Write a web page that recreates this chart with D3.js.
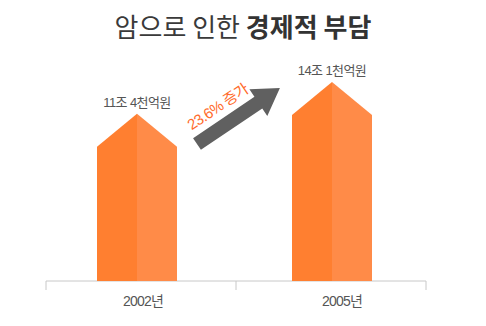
<!DOCTYPE html>
<html>
<head>
<meta charset="utf-8">
<script src="https://cdn.jsdelivr.net/npm/d3@7"></script>
<style>
  html, body { margin: 0; padding: 0; background: #fff; }
  svg { display: block; font-family: "Liberation Sans", "Noto Sans CJK KR", sans-serif; }
</style>
</head>
<body>
<svg id="chart" width="486" height="326"></svg>
<script>
// Economic burden of cancer, in 조 (trillion won)
const years = ["2002년", "2005년"];
const burden = [11.4, 14.1];
const valueLabels = ["11조 4천억원", "14조 1천억원"];
const growthLabel = "23.6% 증가";

const W = 486, H = 326;
const svg = d3.select("#chart");

// Title: regular + bold parts
const title = svg.append("text")
  .attr("x", W / 2).attr("y", 37)
  .attr("text-anchor", "middle")
  .attr("font-family", "Noto Sans CJK KR")
  .attr("font-size", 26)
  .attr("fill", "#3a3a3a");
title.append("tspan").text("암으로 인한 ");
title.append("tspan").attr("font-weight", "bold").attr("fill", "#333").text("경제적 부담");

const baseY = 281;
const x = d3.scaleBand().domain(years).range([46, 426]).paddingInner(0).paddingOuter(0);
const y = d3.scaleLinear().domain([0, 14.1]).range([baseY, 115]);

const barW = 80, roof = 33;
const shift = [-4, 1];   // bar centre offset within each band

// Axis with outer and middle ticks
const axis = d3.axisBottom(x).tickSize(0).tickFormat("");
const gAxis = svg.append("g").attr("transform", `translate(0,${baseY})`).call(axis);
gAxis.select(".domain").remove();
gAxis.append("line").attr("x1", 46).attr("x2", 426).attr("y1", 0).attr("y2", 0)
  .attr("stroke", "#c8c8c8").attr("stroke-width", 1);
[46, x(years[1]), 426].forEach(px => {
  gAxis.append("line").attr("x1", px).attr("x2", px).attr("y1", 0).attr("y2", 9)
    .attr("stroke", "#c8c8c8").attr("stroke-width", 1);
});

// House-shaped bars, split into a darker left and lighter right half
const bars = svg.append("g");
years.forEach((yr, i) => {
  const cx = x(yr) + x.bandwidth() / 2 + shift[i];
  const top = y(burden[i]);
  const l = cx - barW / 2, r = cx + barW / 2;
  bars.append("path")
    .attr("d", `M${l},${baseY}L${l},${top}L${cx},${top - roof}L${cx},${baseY}Z`)
    .attr("fill", "#ff7f30");
  bars.append("path")
    .attr("d", `M${cx},${baseY}L${cx},${top - roof}L${r},${top}L${r},${baseY}Z`)
    .attr("fill", "#ff8b48");
  svg.append("text")
    .attr("x", cx).attr("y", top - roof - 7)
    .attr("text-anchor", "middle")
    .attr("font-size", 13)
    .attr("fill", "#555")
    .attr("letter-spacing", -0.6)
    .text(valueLabels[i]);
});

// Year labels
const labelShift = [2, 11];
svg.append("g").selectAll("text").data(years).join("text")
  .attr("x", (d, i) => x(d) + x.bandwidth() / 2 + labelShift[i])
  .attr("y", 306)
  .attr("text-anchor", "middle")
  .attr("font-size", 14)
  .attr("letter-spacing", -0.8)
  .attr("fill", "#555")
  .text(d => d);

// Growth arrow between the two bars
const arrow = svg.append("g").attr("transform", "translate(197,144) rotate(-34)");
const len = 100, shaft = 14, headW = 32, headL = 26;
arrow.append("path")
  .attr("d", `M0,${-shaft / 2}L${len - headL},${-shaft / 2}L${len - headL},${-headW / 2}` +
             `L${len},0L${len - headL},${headW / 2}L${len - headL},${shaft / 2}L0,${shaft / 2}Z`)
  .attr("fill", "#606060");
arrow.append("text")
  .attr("x", 38).attr("y", -14)
  .attr("text-anchor", "middle")
  .attr("font-size", 15)
  .attr("letter-spacing", -0.6)
  .attr("fill", "#ff6a2a")
  .text(growthLabel);
</script>
</body>
</html>
